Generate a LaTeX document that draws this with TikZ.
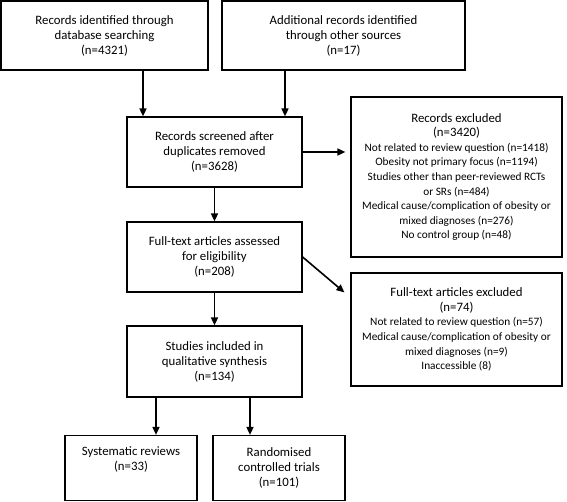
\documentclass[tikz,border=0pt]{standalone}
\usepackage{fontspec}
\setmainfont{Carlito}
\usetikzlibrary{arrows.meta}
\newcommand{\boxfont}{\fontsize{12.8}{15}\selectfont}
\newcommand{\itemfont}{\fontsize{11.3}{14.6}\selectfont}
\tikzset{
	flowbox/.style={draw, line width=1.2pt, align=center, inner sep=2pt, font=\boxfont},
	flowarrow/.style={arrows=-{Triangle[length=8pt,width=7pt]}, line width=1.6pt},
}
\begin{document}
\begin{tikzpicture}[x=1pt, y=-1pt]
	\useasboundingbox (0,0) rectangle (567,502);
	% identification
	\node [flowbox, minimum width=207, minimum height=69] (database) at (104.5,35.5) {Records identified through\\database searching\\(n=4321)};
	\node [flowbox, minimum width=243, minimum height=69] (othersrc) at (343.5,35.5) {Additional records identified\\through other sources\\(n=17)};
	% screening
	\node [flowbox, minimum width=175, minimum height=70] (screened) at (214.5,152) {Records screened after\\duplicates removed\\(n=3628)};
	\node [flowbox, font=\itemfont, minimum width=211, minimum height=160] (recexcl) at (456.5,177) {{\boxfont Records excluded}\\{\boxfont (n=3420)}\\Not related to review question (n=1418)\\Obesity not primary focus (n=1194)\\Studies other than peer-reviewed RCTs\\or SRs (n=484)\\Medical cause/complication of obesity or\\mixed diagnoses (n=276)\\No control group (n=48)};
	% eligibility
	\node [flowbox, minimum width=175, minimum height=70] (assessed) at (214.5,257) {Full-text articles assessed\\for eligibility\\(n=208)};
	\node [flowbox, font=\itemfont, minimum width=211, minimum height=113] (ftexcl) at (456.5,329.5) {{\boxfont Full-text articles excluded}\\{\boxfont (n=74)}\\Not related to review question (n=57)\\Medical cause/complication of obesity or\\mixed diagnoses (n=9)\\Inaccessible (8)};
	% included
	\node [flowbox, minimum width=175, minimum height=71] (included) at (214.5,361.5) {Studies included in\\qualitative synthesis\\(n=134)};
	\node [flowbox, minimum width=132, minimum height=65] (sysrev) at (131,468) {Systematic reviews\\(n=33)\\\strut};
	\node [flowbox, minimum width=132, minimum height=65] (rcts) at (279,468) {Randomised\\controlled trials\\(n=101)};
	% arrows
	\draw [flowarrow] (database.south -| 143,0) -- (screened.north -| 143,0);
	\draw [flowarrow] (othersrc.south -| 285,0) -- (screened.north -| 285,0);
	\draw [flowarrow, shorten >=5pt] (screened.east) -- (recexcl.west |- screened.east);
	\draw [flowarrow] (screened.south) -- (assessed.north);
	\draw [flowarrow] (assessed.east) -- ([shift={(-6,20)}]ftexcl.north west);
	\draw [flowarrow] (assessed.south) -- (included.north);
	\draw [flowarrow] (included.south -| 156,0) -- (sysrev.north -| 156,0);
	\draw [flowarrow] (included.south -| 250,0) -- (rcts.north -| 250,0);
\end{tikzpicture}
\end{document}
